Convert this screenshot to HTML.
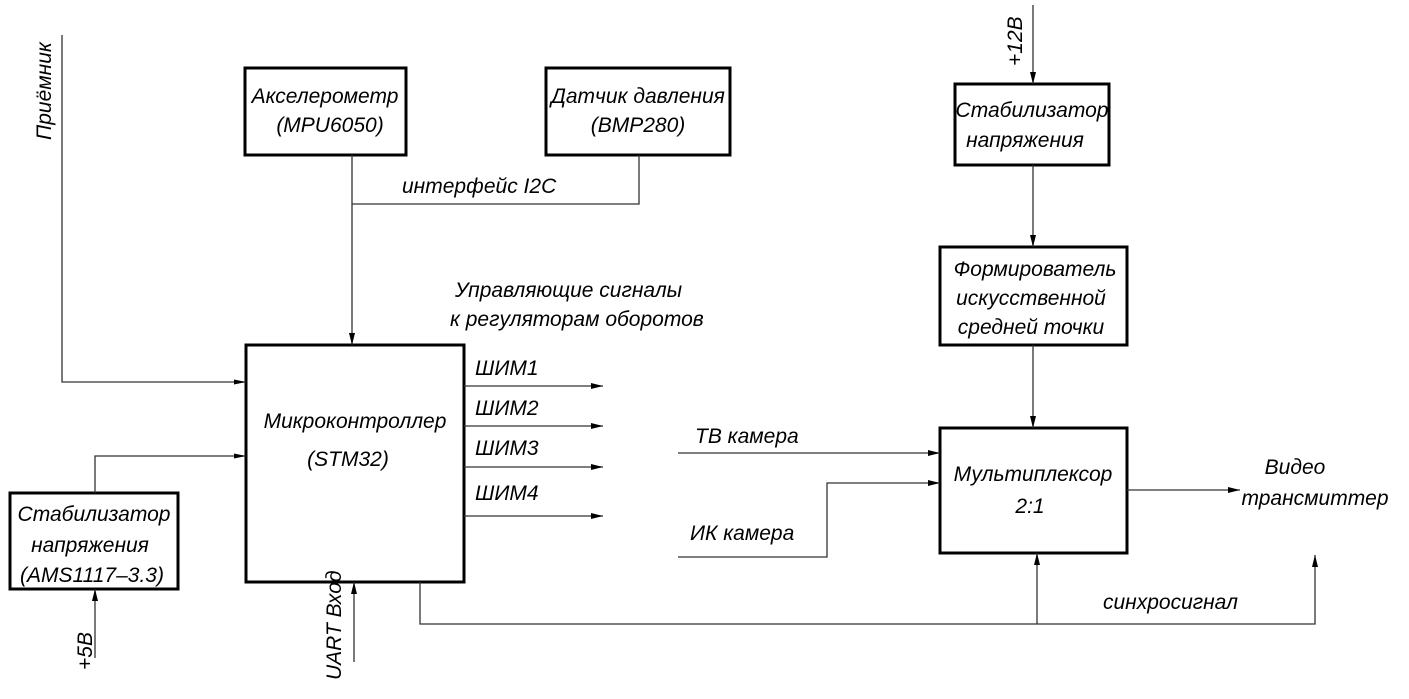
<!DOCTYPE html>
<html><head><meta charset="utf-8"><style>
html,body{margin:0;padding:0;background:#fff}
svg text{font-family:"Liberation Sans Narrow","Liberation Sans",sans-serif;font-style:italic;font-size:21px;fill:#000}
</style></head><body>
<svg width="1409" height="694" viewBox="0 0 1409 694" xmlns="http://www.w3.org/2000/svg">
<defs><marker id="a" markerWidth="12" markerHeight="8" refX="12" refY="4" orient="auto" markerUnits="userSpaceOnUse"><path d="M0,1 L12,4 L0,7 Z" fill="#000"/></marker>
<marker id="b" markerWidth="34" markerHeight="8" refX="34" refY="4" orient="auto" markerUnits="userSpaceOnUse"><path d="M22,1.5 L34,4 L22,6.5 Z" fill="#000"/></marker></defs>
<g fill="none" stroke="#000" stroke-width="3">
<rect x="246" y="345" width="218" height="237"/>
<rect x="10" y="493" width="168" height="96"/>
<rect x="245" y="68" width="161" height="87"/>
<rect x="546" y="68" width="184" height="87"/>
<rect x="955" y="84" width="154" height="81"/>
<rect x="940" y="247" width="187" height="98"/>
<rect x="940" y="428" width="187" height="125"/>
</g>
<g fill="none" stroke="#333" stroke-width="1.3">
<polyline points="62,35 62,382 246,382" marker-end="url(#b)"/>
<polyline points="95,493 95,456 246,456" marker-end="url(#b)"/>
<line x1="95" y1="658" x2="95" y2="589" marker-end="url(#a)"/>
<line x1="354" y1="662" x2="354" y2="582" marker-end="url(#a)"/>
<line x1="464" y1="386" x2="603" y2="386" marker-end="url(#a)"/>
<line x1="464" y1="426" x2="603" y2="426" marker-end="url(#a)"/>
<line x1="464" y1="467" x2="603" y2="467" marker-end="url(#a)"/>
<line x1="464" y1="516" x2="603" y2="516" marker-end="url(#a)"/>
<polyline points="420,582 420,624 1315,624 1315,555" marker-end="url(#a)"/>
<line x1="1037" y1="624" x2="1037" y2="553" marker-end="url(#a)"/>
<line x1="352" y1="155" x2="352" y2="345" marker-end="url(#a)"/>
<polyline points="352,204 639,204 639,155"/>
<line x1="1033" y1="5" x2="1033" y2="84" marker-end="url(#a)"/>
<line x1="1033" y1="165" x2="1033" y2="247" marker-end="url(#a)"/>
<line x1="1033" y1="345" x2="1033" y2="428" marker-end="url(#a)"/>
<line x1="678" y1="453" x2="940" y2="453" marker-end="url(#a)"/>
<polyline points="678,557 827,557 827,483 940,483" marker-end="url(#a)"/>
<line x1="1127" y1="490" x2="1240" y2="490" marker-end="url(#a)"/>
</g>
<g text-anchor="middle">
<text x="355" y="428">Микроконтроллер</text>
<text x="348" y="466">(STM32)</text>
<text x="94" y="521">Стабилизатор</text>
<text x="90" y="552">напряжения</text>
<text x="92" y="582">(AMS1117–3.3)</text>
<text x="325" y="103">Акселерометр</text>
<text x="330" y="132">(MPU6050)</text>
<text x="638" y="103">Датчик давления</text>
<text x="638" y="132">(BMP280)</text>
<text x="1032" y="117">Стабилизатор</text>
<text x="1025" y="147">напряжения</text>
<text x="1035" y="276">Формирователь</text>
<text x="1031" y="305">искусственной</text>
<text x="1031" y="334">средней точки</text>
<text x="1033" y="481">Мультиплексор</text>
<text x="1030" y="513">2:1</text>
<text x="1295" y="474">Видео</text>
<text x="1315" y="505">трансмиттер</text>
</g>
<text x="402" y="193">интерфейс I2C</text>
<text x="455" y="297">Управляющие сигналы</text>
<text x="450" y="326">к регуляторам оборотов</text>
<text x="475" y="375">ШИМ1</text>
<text x="475" y="415">ШИМ2</text>
<text x="475" y="455">ШИМ3</text>
<text x="475" y="500">ШИМ4</text>
<text x="695" y="443">ТВ камера</text>
<text x="690" y="540">ИК камера</text>
<text x="1103" y="609">синхросигнал</text>
<text transform="translate(51,140) rotate(-90)">Приёмник</text>
<text transform="translate(92,670) rotate(-90)">+5В</text>
<text transform="translate(341,680) rotate(-90)">UART Вход</text>
<text transform="translate(1022,66) rotate(-90)">+12В</text>
</svg>
</body></html>
